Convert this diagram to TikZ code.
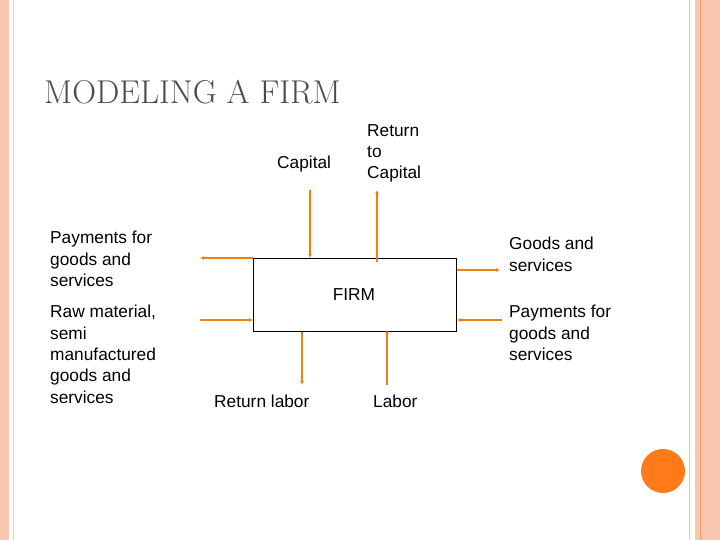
\documentclass[tikz,border=0pt]{standalone}
\usepackage{fontspec}
\setsansfont{Liberation Sans}
\usetikzlibrary{arrows.meta}
\begin{document}
\begin{tikzpicture}[x=1pt,y=-1pt,
 lbl/.style={font=\sffamily\fontsize{17.3}{21.4}\selectfont, align=left, anchor=north west, inner sep=0pt},
 arr/.style={draw=orange!75!brown, line width=1.6pt, -{Latex[length=4pt,width=4pt]}}]
\useasboundingbox (0,0) rectangle (720,540);
\fill[white] (0,0) rectangle (720,540);
\definecolor{peach}{HTML}{F9C6B2}
\fill[peach] (0,0) rectangle (9,540);
\draw[peach, line width=1pt] (13,0) -- (13,540);
\draw[peach, line width=1pt] (689,0) -- (689,540);
\fill[peach] (695,0) rectangle (720,540);
\draw[orange!70!red!60, line width=1pt] (700,0) -- (700,540);
\node[font=\fontsize{33}{35}\selectfont, text=black!70, anchor=west, inner sep=0pt] (title) at (44,92) {MODELING A FIRM};
\node[draw, line width=1pt, minimum width=203pt, minimum height=73pt, anchor=north west] (firm) at (253,258) {};
\node[font=\sffamily\fontsize{17.3}{18}\selectfont] (firmt) at (354,295) {FIRM};
\node[lbl] (cap) at (277,156) {Capital};
\node[lbl] (rcap) at (367,124) {Return\\to\\Capital};
\node[lbl] (pay1) at (50,231) {Payments for\\goods and\\services};
\node[lbl] (raw) at (50,305) {Raw material,\\semi\\manufactured\\goods and\\services};
\node[lbl] (gs) at (509,237) {Goods and\\services};
\node[lbl] (pay2) at (509,305) {Payments for\\goods and\\services};
\node[lbl] (rl) at (214,395) {Return labor};
\node[lbl] (lab) at (373,395) {Labor};
\coordinate (c1) at (310,190); \coordinate (c2) at (377,190);
\coordinate (l1) at (200,258); \coordinate (l2) at (200,320);
\coordinate (r1) at (500,270); \coordinate (r2) at (502,320);
\coordinate (b1) at (302,385); \coordinate (b2) at (387,385);
\draw[arr] (c1) -- (c1 |- firm.north);
\draw[arr] (c2 |- firm.north) ++(0,4) -- (c2);
\draw[arr] (firm.north west) -- (l1);
\draw[arr] (l2) -- (l2 -| firm.west);
\draw[arr] (r1 -| firm.east) -- (r1);
\draw[arr] (r2) -- (r2 -| firm.east);
\draw[arr] (b1 |- firm.south) -- (b1);
\draw[arr] (b2) -- ([yshift=2pt]b2 |- firm.south);
\fill[orange!85!red!90] (663,471) circle (22) node (dot) {};
\end{tikzpicture}
\end{document}
